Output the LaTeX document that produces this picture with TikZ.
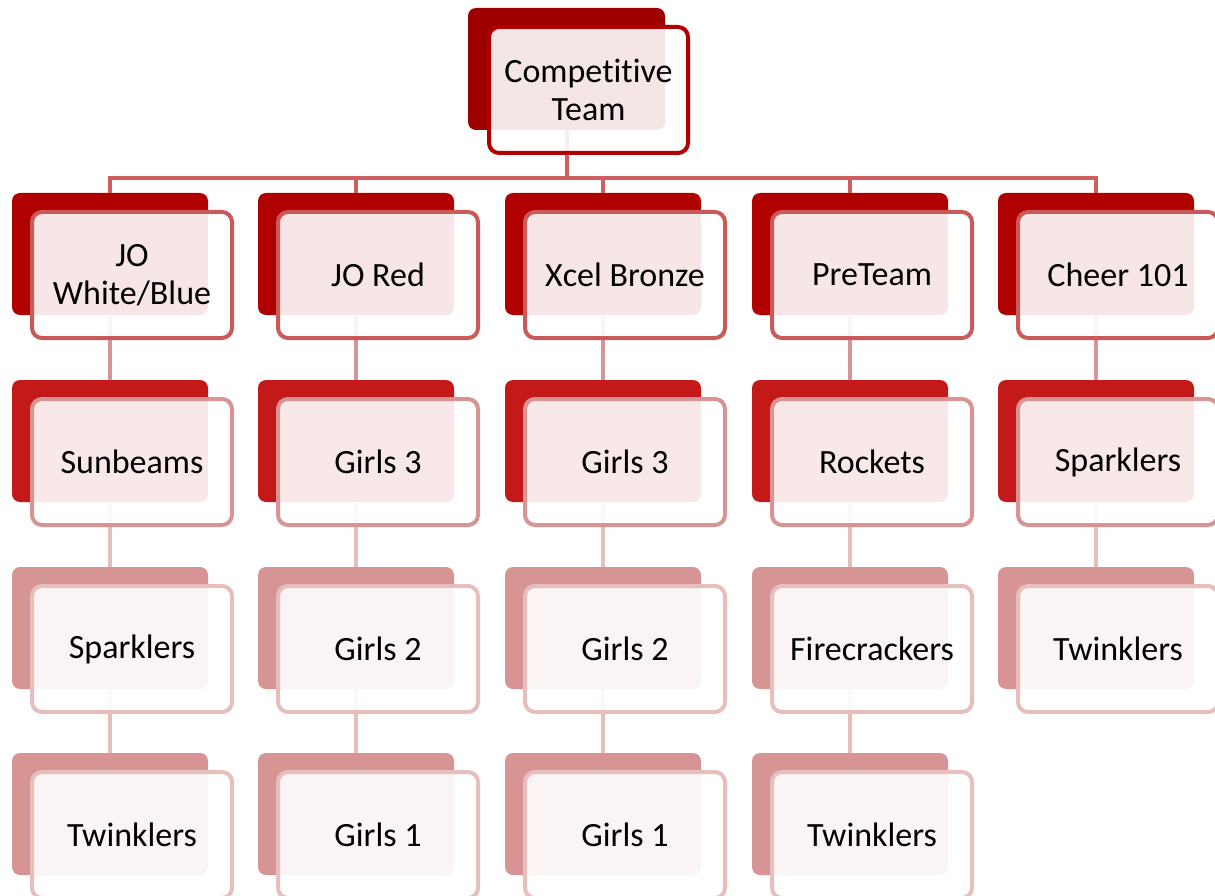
\documentclass[tikz,border=0pt]{standalone}
\usepackage{fontspec}
\setmainfont{Carlito}[Ligatures={NoCommon,NoRare,NoContextual}]
\definecolor{Lzback}{RGB}{158,0,0}
\definecolor{Lzline}{RGB}{178,0,0}
\definecolor{Laback}{RGB}{176,0,0}
\definecolor{Laline}{RGB}{200,90,90}
\definecolor{Lbback}{RGB}{195,25,25}
\definecolor{Lbline}{RGB}{215,148,148}
\definecolor{Lcback}{RGB}{214,148,148}
\definecolor{Lcline}{RGB}{230,190,190}
\definecolor{Cone}{RGB}{205,95,95}
\definecolor{Ctwo}{RGB}{214,150,150}
\definecolor{Cthree}{RGB}{230,190,190}
\tikzset{
  backbox/.style={fill=#1, rounded corners=8pt, minimum width=196pt, minimum height=122pt, inner sep=0pt, outer sep=0pt},
  frontbox/.style={draw=#1, line width=4pt, rounded corners=10pt, fill=white, fill opacity=0.9, text opacity=1,
     minimum width=200pt, minimum height=126pt, inner sep=0pt, outer sep=0pt, align=center,
     font=\fontsize{34}{38}\selectfont},
  conn/.style={draw=#1, line width=4pt},
}
\begin{document}
\begin{tikzpicture}[x=1pt,y=-1pt]
\useasboundingbox (0,0) rectangle (1215,896);
% back shapes
\node[backbox=Lzback, minimum width=197pt] (b0) at (566.5,69) {};
\foreach \c/\x in {1/110,2/356,3/603,4/850,5/1096}{
  \node[backbox=Laback] (b\c1) at (\x,254) {};
  \node[backbox=Lbback] (b\c2) at (\x,441) {};
  \node[backbox=Lcback] (b\c3) at (\x,628) {};
}
\foreach \c/\x in {1/110,2/356,3/603,4/850}{
  \node[backbox=Lcback] (b\c4) at (\x,814) {};
}
% connectors
\coordinate (hbar) at (0,178);
\draw[conn=Cone] (b0.south) -- (b0.south |- hbar);
\draw[conn=Cone, line cap=rect] (b11.north |- hbar) -- (b51.north |- hbar);
\foreach \c in {1,2,3,4,5}{
  \draw[conn=Cone] (b\c1.north |- hbar) -- (b\c1.north);
  \draw[conn=Ctwo] (b\c1.south) -- (b\c2.north);
  \draw[conn=Cthree] (b\c2.south) -- (b\c3.north);
}
\foreach \c in {1,2,3,4}{
  \draw[conn=Cthree] (b\c3.south) -- (b\c4.north);
}
% front boxes
\node[frontbox=Lzline, minimum width=199pt] (f0) at ([shift={(22,21)}]b0.center) {Competitive\\Team};
\node[frontbox=Laline] (f11) at ([shift={(22,21)}]b11.center) {JO\\White/Blue};
\node[frontbox=Lbline] (f12) at ([shift={(22,21)}]b12.center) {Sunbeams};
\node[frontbox=Lcline] (f13) at ([shift={(22,21)}]b13.center) {Sparklers};
\node[frontbox=Lcline] (f14) at ([shift={(22,21)}]b14.center) {Twinklers};
\node[frontbox=Laline] (f21) at ([shift={(22,21)}]b21.center) {JO Red};
\node[frontbox=Lbline] (f22) at ([shift={(22,21)}]b22.center) {Girls 3};
\node[frontbox=Lcline] (f23) at ([shift={(22,21)}]b23.center) {Girls 2};
\node[frontbox=Lcline] (f24) at ([shift={(22,21)}]b24.center) {Girls 1};
\node[frontbox=Laline] (f31) at ([shift={(22,21)}]b31.center) {Xcel Bronze};
\node[frontbox=Lbline] (f32) at ([shift={(22,21)}]b32.center) {Girls 3};
\node[frontbox=Lcline] (f33) at ([shift={(22,21)}]b33.center) {Girls 2};
\node[frontbox=Lcline] (f34) at ([shift={(22,21)}]b34.center) {Girls 1};
\node[frontbox=Laline] (f41) at ([shift={(22,21)}]b41.center) {PreTeam};
\node[frontbox=Lbline] (f42) at ([shift={(22,21)}]b42.center) {Rockets};
\node[frontbox=Lcline] (f43) at ([shift={(22,21)}]b43.center) {Firecrackers};
\node[frontbox=Lcline] (f44) at ([shift={(22,21)}]b44.center) {Twinklers};
\node[frontbox=Laline] (f51) at ([shift={(22,21)}]b51.center) {Cheer 101};
\node[frontbox=Lbline] (f52) at ([shift={(22,21)}]b52.center) {Sparklers};
\node[frontbox=Lcline] (f53) at ([shift={(22,21)}]b53.center) {Twinklers};
\end{tikzpicture}
\end{document}
